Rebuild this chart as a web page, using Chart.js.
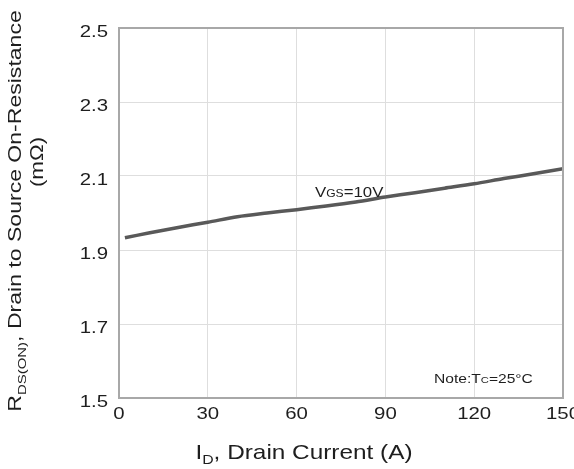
<!DOCTYPE html>
<html lang="en">
<head>
  <meta charset="UTF-8" />
  <title>RDS(ON) vs Drain Current</title>
  <script src="https://cdn.jsdelivr.net/npm/chart.js"></script>
  <style>
    html, body { margin: 0; padding: 0; background: #fff; }
    canvas { display: block; }
  </style>
</head>
<body>
  <canvas id="rdsChart" width="574" height="469"></canvas>

  <script>
    // Data (VGS = 10V, Tc = 25°C)
    const drainCurrent = [2, 10, 20, 30, 40, 50, 60, 70, 80, 90, 100, 110, 120, 130, 140, 150];
    const rdsOn = [1.933, 1.946, 1.961, 1.975, 1.990, 2.000, 2.009, 2.019, 2.030, 2.043, 2.055, 2.067, 2.079, 2.093, 2.106, 2.120];
    const xTicks = [0, 30, 60, 90, 120, 150];
    const yTicks = [1.5, 1.7, 1.9, 2.1, 2.3, 2.5];

    const FONT = '"Liberation Sans", Arial, sans-serif';
    const INK = "#1e1e1e";

    // draws text made of pieces [text, sizeFactor, dy], stretched along the text by sx
    function rich(ctx, parts, x, y, size, sx, align, rot) {
      ctx.save();
      ctx.translate(x, y);
      ctx.rotate(rot || 0);
      ctx.scale(sx, 1);
      ctx.fillStyle = INK;
      ctx.textBaseline = "alphabetic";
      let w = 0;
      const widths = parts.map(p => {
        ctx.font = `${size * (p[1] || 1)}px ${FONT}`;
        const m = ctx.measureText(p[0]).width;
        w += m;
        return m;
      });
      let cx = align === "center" ? -w / 2 : align === "right" ? -w : 0;
      const base = size * 0.36;
      parts.forEach((p, i) => {
        ctx.font = `${size * (p[1] || 1)}px ${FONT}`;
        ctx.fillText(p[0], cx, base + (p[2] || 0) * size);
        cx += widths[i];
      });
      ctx.restore();
    }

    const decorations = {
      id: "decorations",
      afterDraw(chart) {
        const ctx = chart.ctx;
        const { left, top, right, bottom } = chart.chartArea;
        const xs = chart.scales.x, ys = chart.scales.y;

        // plot frame
        ctx.save();
        ctx.strokeStyle = "#a8a8a8";
        ctx.lineWidth = 2;
        ctx.strokeRect(left, top, right - left, bottom - top);
        ctx.restore();

        // tick labels
        xs.ticks.forEach(t => rich(ctx, [[String(t.value)]], xs.getPixelForValue(t.value), 413, 17, 1.2, "center"));
        ys.ticks.forEach(t => rich(ctx, [[t.value.toFixed(1)]], 108, ys.getPixelForValue(t.value) + 3, 17, 1.2, "right"));

        // axis titles
        rich(ctx, [["I"], ["D", 0.65, 0.25], [", Drain Current (A)"]], 304, 451, 21, 1.16, "center");
        rich(ctx, [["R"], ["DS(ON)", 0.65, 0.25], [", Drain to Source On-Resistance"]], 15, 211, 18, 1.28, "center", -Math.PI / 2);
        rich(ctx, [["(mΩ)"]], 37, 162, 18, 1.24, "center", -Math.PI / 2);

        // annotations
        rich(ctx, [["V"], ["GS", 0.72], ["=10V"]], 315, 192, 14, 1.2, "left");
        rich(ctx, [["Note:T"], ["C", 0.72], ["=25°C"]], 434, 378, 13, 1.2, "left");
      }
    };

    new Chart(document.getElementById("rdsChart"), {
      type: "line",
      data: {
        datasets: [{
          data: drainCurrent.map((x, i) => ({ x: x, y: rdsOn[i] })),
          borderColor: "#595959",
          borderWidth: 3.5,
          pointRadius: 0,
          tension: 0.3,
          fill: false
        }]
      },
      options: {
        responsive: false,
        animation: false,
        devicePixelRatio: 1,
        layout: { padding: { top: 28, right: 11, left: 0, bottom: 0 } },
        plugins: { legend: { display: false }, tooltip: { enabled: false } },
        scales: {
          x: {
            type: "linear",
            min: 0,
            max: 150,
            afterBuildTicks: s => { s.ticks = xTicks.map(v => ({ value: v })); },
            afterFit: s => { s.height = 71; },
            grid: { color: "#dedede", lineWidth: 1, drawTicks: false },
            border: { display: false },
            ticks: { display: false }
          },
          y: {
            type: "linear",
            min: 1.5,
            max: 2.5,
            afterBuildTicks: s => { s.ticks = yTicks.map(v => ({ value: v })); },
            afterFit: s => { s.width = 119; },
            grid: { color: "#dedede", lineWidth: 1, drawTicks: false },
            border: { display: false },
            ticks: { display: false }
          }
        }
      },
      plugins: [decorations]
    });
  </script>
</body>
</html>
